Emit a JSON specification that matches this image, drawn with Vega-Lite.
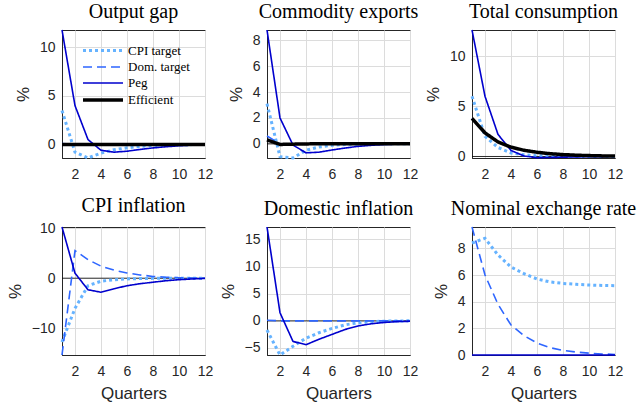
{
  "$schema": "https://vega.github.io/schema/vega-lite/v6.json",
  "background": "white",
  "padding": {"left": 5, "top": 1, "right": 0, "bottom": 0},
  "datasets": {
    "d": [
      {"p":1,"x":1,"cpi":3.5,"dom":0.1,"peg":11.8,"eff":0},
      {"p":1,"x":2,"cpi":-0.8,"dom":0,"peg":4.0,"eff":0},
      {"p":1,"x":3,"cpi":-1.4,"dom":0,"peg":0.5,"eff":0},
      {"p":1,"x":4,"cpi":-0.9,"dom":0,"peg":-0.6,"eff":0},
      {"p":1,"x":5,"cpi":-0.55,"dom":0,"peg":-0.8,"eff":0},
      {"p":1,"x":6,"cpi":-0.35,"dom":0,"peg":-0.7,"eff":0},
      {"p":1,"x":7,"cpi":-0.2,"dom":0,"peg":-0.52,"eff":0},
      {"p":1,"x":8,"cpi":-0.12,"dom":0,"peg":-0.36,"eff":0},
      {"p":1,"x":9,"cpi":-0.07,"dom":0,"peg":-0.24,"eff":0},
      {"p":1,"x":10,"cpi":-0.04,"dom":0,"peg":-0.14,"eff":0},
      {"p":1,"x":11,"cpi":-0.02,"dom":0,"peg":-0.07,"eff":0},
      {"p":1,"x":12,"cpi":-0.01,"dom":0,"peg":-0.03,"eff":0},
      {"p":2,"x":1,"cpi":3.1,"dom":0.6,"peg":8.8,"eff":0.3},
      {"p":2,"x":2,"cpi":-1.0,"dom":0.0,"peg":2.0,"eff":-0.05},
      {"p":2,"x":3,"cpi":-1.1,"dom":-0.05,"peg":-0.1,"eff":-0.03},
      {"p":2,"x":4,"cpi":-0.5,"dom":-0.03,"peg":-0.7,"eff":-0.01},
      {"p":2,"x":5,"cpi":-0.25,"dom":-0.02,"peg":-0.65,"eff":0},
      {"p":2,"x":6,"cpi":-0.12,"dom":-0.01,"peg":-0.48,"eff":0},
      {"p":2,"x":7,"cpi":-0.06,"dom":0,"peg":-0.33,"eff":0},
      {"p":2,"x":8,"cpi":-0.03,"dom":0,"peg":-0.2,"eff":0},
      {"p":2,"x":9,"cpi":-0.01,"dom":0,"peg":-0.12,"eff":0},
      {"p":2,"x":10,"cpi":0,"dom":0,"peg":-0.06,"eff":0},
      {"p":2,"x":11,"cpi":0,"dom":0,"peg":-0.03,"eff":0},
      {"p":2,"x":12,"cpi":0,"dom":0,"peg":-0.01,"eff":0},
      {"p":3,"x":1,"cpi":6.0,"dom":3.8,"peg":12.6,"eff":3.8},
      {"p":3,"x":2,"cpi":2.0,"dom":2.35,"peg":6.0,"eff":2.35},
      {"p":3,"x":3,"cpi":0.9,"dom":1.45,"peg":2.2,"eff":1.45},
      {"p":3,"x":4,"cpi":0.35,"dom":0.93,"peg":0.6,"eff":0.93},
      {"p":3,"x":5,"cpi":0.17,"dom":0.62,"peg":0.05,"eff":0.62},
      {"p":3,"x":6,"cpi":0.08,"dom":0.42,"peg":-0.12,"eff":0.42},
      {"p":3,"x":7,"cpi":0.04,"dom":0.28,"peg":-0.1,"eff":0.28},
      {"p":3,"x":8,"cpi":0.02,"dom":0.19,"peg":-0.07,"eff":0.19},
      {"p":3,"x":9,"cpi":0.01,"dom":0.13,"peg":-0.04,"eff":0.13},
      {"p":3,"x":10,"cpi":0,"dom":0.09,"peg":-0.02,"eff":0.09},
      {"p":3,"x":11,"cpi":0,"dom":0.06,"peg":-0.01,"eff":0.06},
      {"p":3,"x":12,"cpi":0,"dom":0.05,"peg":0,"eff":0.05},
      {"p":4,"x":1,"cpi":-12.7,"dom":-15.3,"peg":10.2},
      {"p":4,"x":2,"cpi":-6.0,"dom":5.5,"peg":1.0},
      {"p":4,"x":3,"cpi":-1.5,"dom":3.7,"peg":-2.3},
      {"p":4,"x":4,"cpi":-0.6,"dom":2.4,"peg":-2.8},
      {"p":4,"x":5,"cpi":-0.3,"dom":1.6,"peg":-2.1},
      {"p":4,"x":6,"cpi":-0.15,"dom":1.05,"peg":-1.5},
      {"p":4,"x":7,"cpi":-0.07,"dom":0.65,"peg":-1.1},
      {"p":4,"x":8,"cpi":-0.03,"dom":0.35,"peg":-0.8},
      {"p":4,"x":9,"cpi":0,"dom":0.2,"peg":-0.5},
      {"p":4,"x":10,"cpi":0,"dom":0.1,"peg":-0.3},
      {"p":4,"x":11,"cpi":0,"dom":0.05,"peg":-0.15},
      {"p":4,"x":12,"cpi":0,"dom":0.02,"peg":-0.05},
      {"p":5,"x":1,"cpi":-1.7,"dom":0.1,"peg":17.3},
      {"p":5,"x":2,"cpi":-6.3,"dom":0,"peg":1.5},
      {"p":5,"x":3,"cpi":-4.7,"dom":0,"peg":-3.8},
      {"p":5,"x":4,"cpi":-3.2,"dom":0,"peg":-4.4},
      {"p":5,"x":5,"cpi":-2.2,"dom":0,"peg":-3.4},
      {"p":5,"x":6,"cpi":-1.4,"dom":0,"peg":-2.5},
      {"p":5,"x":7,"cpi":-0.75,"dom":0,"peg":-1.6},
      {"p":5,"x":8,"cpi":-0.35,"dom":0,"peg":-0.95},
      {"p":5,"x":9,"cpi":-0.15,"dom":0,"peg":-0.55},
      {"p":5,"x":10,"cpi":-0.06,"dom":0,"peg":-0.3},
      {"p":5,"x":11,"cpi":-0.02,"dom":0,"peg":-0.15},
      {"p":5,"x":12,"cpi":0,"dom":0,"peg":-0.08},
      {"p":6,"x":1,"cpi":8.4,"dom":9.6,"peg":0},
      {"p":6,"x":2,"cpi":8.75,"dom":6.0,"peg":0},
      {"p":6,"x":3,"cpi":7.5,"dom":3.8,"peg":0},
      {"p":6,"x":4,"cpi":6.6,"dom":2.25,"peg":0},
      {"p":6,"x":5,"cpi":6.1,"dom":1.45,"peg":0},
      {"p":6,"x":6,"cpi":5.7,"dom":0.9,"peg":0},
      {"p":6,"x":7,"cpi":5.48,"dom":0.55,"peg":0},
      {"p":6,"x":8,"cpi":5.37,"dom":0.35,"peg":0},
      {"p":6,"x":9,"cpi":5.3,"dom":0.22,"peg":0},
      {"p":6,"x":10,"cpi":5.25,"dom":0.14,"peg":0},
      {"p":6,"x":11,"cpi":5.22,"dom":0.08,"peg":0},
      {"p":6,"x":12,"cpi":5.2,"dom":0.04,"peg":0}
    ]
  },
  "columns": 3,
  "spacing": {"row": 69, "column": 62},
  "bounds": "flush",
  "concat": [
    {
      "title": "Output gap",
      "width": 143, "height": 128,
      "data": {"name": "d"},
      "transform": [{"filter": "datum.p == 1"}, {"fold": ["cpi","dom","peg","eff"], "as": ["s","y"]}, {"filter": "isValid(datum.y)"}],
      "layer": [
        {"data": {"values": [{}]}, "mark": {"type": "rule", "color": "black", "strokeWidth": 0.8}, "encoding": {"y": {"datum": 0, "type": "quantitative"}}},
        {"mark": {"type": "line", "clip": false},
         "encoding": {
           "x": {"field": "x", "type": "quantitative", "scale": {"domain": [1,12], "nice": false}, "axis": {"values": [2,4,6,8,10,12], "title": null}},
           "y": {"field": "y", "type": "quantitative", "scale": {"domain": [-1.4,11.8], "nice": false, "zero": false}, "axis": {"values": [0,5,10], "title": "%"}},
           "color": {"field": "s", "type": "nominal", "scale": {"domain": ["cpi","dom","peg","eff"], "range": ["#66b3ff","#2e66ff","#0000cd","#000000"]},
             "legend": {"orient": "none", "legendX": 31, "legendY": 11, "title": null, "labelFont": "Liberation Serif", "labelFontSize": 13, "labelColor": "#000", "symbolType": "M-2.5,0H2.5", "symbolSize": 256, "labelOffset": 15, "rowPadding": -1, "padding": 0,
               "labelExpr": "datum.label == 'cpi' ? 'CPI target' : datum.label == 'dom' ? 'Dom. target' : datum.label == 'peg' ? 'Peg' : 'Efficient'"}},
           "strokeDash": {"field": "s", "type": "nominal", "scale": {"domain": ["cpi","dom","peg","eff"], "range": [[3,3],[9,5],[1,0],[1,0]]}, "legend": {"orient": "none", "legendX": 31, "legendY": 11, "title": null, "labelFont": "Liberation Serif", "labelFontSize": 13, "labelColor": "#000", "symbolType": "M-2.5,0H2.5", "symbolSize": 256, "labelOffset": 15, "rowPadding": -1, "padding": 0,
               "labelExpr": "datum.label == 'cpi' ? 'CPI target' : datum.label == 'dom' ? 'Dom. target' : datum.label == 'peg' ? 'Peg' : 'Efficient'"}},
           "strokeWidth": {"field": "s", "type": "nominal", "scale": {"type": "ordinal", "domain": ["cpi","dom","peg","eff"], "range": [3,1.6,1.6,3.5]}, "legend": {"orient": "none", "legendX": 31, "legendY": 11, "title": null, "labelFont": "Liberation Serif", "labelFontSize": 13, "labelColor": "#000", "symbolType": "M-2.5,0H2.5", "symbolSize": 256, "labelOffset": 15, "rowPadding": -1, "padding": 0,
               "labelExpr": "datum.label == 'cpi' ? 'CPI target' : datum.label == 'dom' ? 'Dom. target' : datum.label == 'peg' ? 'Peg' : 'Efficient'"}}
         }}
      ]
    },
    {
      "title": "Commodity exports",
      "width": 143, "height": 128,
      "data": {"name": "d"},
      "transform": [{"filter": "datum.p == 2"}, {"fold": ["cpi","dom","peg","eff"], "as": ["s","y"]}, {"filter": "isValid(datum.y)"}],
      "layer": [
        {"data": {"values": [{}]}, "mark": {"type": "rule", "color": "black", "strokeWidth": 0.8}, "encoding": {"y": {"datum": 0, "type": "quantitative"}}},
        {"mark": {"type": "line", "clip": false},
         "encoding": {
           "x": {"field": "x", "type": "quantitative", "scale": {"domain": [1,12], "nice": false}, "axis": {"values": [2,4,6,8,10,12], "title": null}},
           "y": {"field": "y", "type": "quantitative", "scale": {"domain": [-1.1,8.8], "nice": false, "zero": false}, "axis": {"tickCount": 5, "title": "%"}},
           "color": {"field": "s", "type": "nominal", "scale": {"domain": ["cpi","dom","peg","eff"], "range": ["#66b3ff","#2e66ff","#0000cd","#000000"]}, "legend": null},
           "strokeDash": {"field": "s", "type": "nominal", "scale": {"domain": ["cpi","dom","peg","eff"], "range": [[3,3],[9,5],[1,0],[1,0]]}, "legend": null},
           "strokeWidth": {"field": "s", "type": "nominal", "scale": {"type": "ordinal", "domain": ["cpi","dom","peg","eff"], "range": [3,1.6,1.6,3.5]}, "legend": null}
         }}
      ]
    },
    {
      "title": "Total consumption",
      "width": 143, "height": 128,
      "data": {"name": "d"},
      "transform": [{"filter": "datum.p == 3"}, {"fold": ["cpi","dom","peg","eff"], "as": ["s","y"]}, {"filter": "isValid(datum.y)"}],
      "layer": [
        {"data": {"values": [{}]}, "mark": {"type": "rule", "color": "black", "strokeWidth": 0.8}, "encoding": {"y": {"datum": 0, "type": "quantitative"}}},
        {"mark": {"type": "line", "clip": false},
         "encoding": {
           "x": {"field": "x", "type": "quantitative", "scale": {"domain": [1,12], "nice": false}, "axis": {"values": [2,4,6,8,10,12], "title": null}},
           "y": {"field": "y", "type": "quantitative", "scale": {"domain": [-0.15,12.6], "nice": false, "zero": false}, "axis": {"values": [0,5,10], "title": "%"}},
           "color": {"field": "s", "type": "nominal", "scale": {"domain": ["cpi","dom","peg","eff"], "range": ["#66b3ff","#2e66ff","#0000cd","#000000"]}, "legend": null},
           "strokeDash": {"field": "s", "type": "nominal", "scale": {"domain": ["cpi","dom","peg","eff"], "range": [[3,3],[9,5],[1,0],[1,0]]}, "legend": null},
           "strokeWidth": {"field": "s", "type": "nominal", "scale": {"type": "ordinal", "domain": ["cpi","dom","peg","eff"], "range": [3,1.6,1.6,3.5]}, "legend": null}
         }}
      ]
    },
    {
      "title": "CPI inflation",
      "width": 143, "height": 128,
      "data": {"name": "d"},
      "transform": [{"filter": "datum.p == 4"}, {"fold": ["cpi","dom","peg","eff"], "as": ["s","y"]}, {"filter": "isValid(datum.y)"}],
      "layer": [
        {"data": {"values": [{}]}, "mark": {"type": "rule", "color": "black", "strokeWidth": 0.8}, "encoding": {"y": {"datum": 0, "type": "quantitative"}}},
        {"mark": {"type": "line", "clip": false},
         "encoding": {
           "x": {"field": "x", "type": "quantitative", "scale": {"domain": [1,12], "nice": false}, "axis": {"values": [2,4,6,8,10,12], "title": "Quarters"}},
           "y": {"field": "y", "type": "quantitative", "scale": {"domain": [-15.3,10.2], "nice": false, "zero": false}, "axis": {"values": [-10,0,10], "title": "%"}},
           "color": {"field": "s", "type": "nominal", "scale": {"domain": ["cpi","dom","peg","eff"], "range": ["#66b3ff","#2e66ff","#0000cd","#000000"]}, "legend": null},
           "strokeDash": {"field": "s", "type": "nominal", "scale": {"domain": ["cpi","dom","peg","eff"], "range": [[3,3],[9,5],[1,0],[1,0]]}, "legend": null},
           "strokeWidth": {"field": "s", "type": "nominal", "scale": {"type": "ordinal", "domain": ["cpi","dom","peg","eff"], "range": [3,1.6,1.6,3.5]}, "legend": null}
         }}
      ]
    },
    {
      "title": "Domestic inflation",
      "width": 143, "height": 128,
      "data": {"name": "d"},
      "transform": [{"filter": "datum.p == 5"}, {"fold": ["cpi","dom","peg","eff"], "as": ["s","y"]}, {"filter": "isValid(datum.y)"}],
      "layer": [
        {"data": {"values": [{}]}, "mark": {"type": "rule", "color": "black", "strokeWidth": 0.8}, "encoding": {"y": {"datum": 0, "type": "quantitative"}}},
        {"mark": {"type": "line", "clip": false},
         "encoding": {
           "x": {"field": "x", "type": "quantitative", "scale": {"domain": [1,12], "nice": false}, "axis": {"values": [2,4,6,8,10,12], "title": "Quarters"}},
           "y": {"field": "y", "type": "quantitative", "scale": {"domain": [-6.3,17.3], "nice": false, "zero": false}, "axis": {"tickCount": 5, "title": "%"}},
           "color": {"field": "s", "type": "nominal", "scale": {"domain": ["cpi","dom","peg","eff"], "range": ["#66b3ff","#2e66ff","#0000cd","#000000"]}, "legend": null},
           "strokeDash": {"field": "s", "type": "nominal", "scale": {"domain": ["cpi","dom","peg","eff"], "range": [[3,3],[9,5],[1,0],[1,0]]}, "legend": null},
           "strokeWidth": {"field": "s", "type": "nominal", "scale": {"type": "ordinal", "domain": ["cpi","dom","peg","eff"], "range": [3,1.6,1.6,3.5]}, "legend": null}
         }}
      ]
    },
    {
      "title": "Nominal exchange rate",
      "width": 143, "height": 128,
      "data": {"name": "d"},
      "transform": [{"filter": "datum.p == 6"}, {"fold": ["cpi","dom","peg","eff"], "as": ["s","y"]}, {"filter": "isValid(datum.y)"}],
      "layer": [
        {"mark": {"type": "line", "clip": false},
         "encoding": {
           "x": {"field": "x", "type": "quantitative", "scale": {"domain": [1,12], "nice": false}, "axis": {"values": [2,4,6,8,10,12], "title": "Quarters"}},
           "y": {"field": "y", "type": "quantitative", "scale": {"domain": [0,9.6], "nice": false, "zero": false}, "axis": {"tickCount": 5, "title": "%"}},
           "color": {"field": "s", "type": "nominal", "scale": {"domain": ["cpi","dom","peg","eff"], "range": ["#66b3ff","#2e66ff","#0000cd","#000000"]}, "legend": null},
           "strokeDash": {"field": "s", "type": "nominal", "scale": {"domain": ["cpi","dom","peg","eff"], "range": [[3,3],[9,5],[1,0],[1,0]]}, "legend": null},
           "strokeWidth": {"field": "s", "type": "nominal", "scale": {"type": "ordinal", "domain": ["cpi","dom","peg","eff"], "range": [3,1.6,1.6,3.5]}, "legend": null}
         }}
      ]
    }
  ],
  "resolve": {
    "scale": {"x": "independent", "y": "independent", "color": "independent", "strokeDash": "independent", "strokeWidth": "independent"},
    "axis": {"x": "independent", "y": "independent"},
    "legend": {"color": "independent", "strokeDash": "independent", "strokeWidth": "independent"}
  },
  "config": {
    "view": {"stroke": "#262626", "strokeWidth": 1},
    "axis": {
      "labelFont": "Liberation Sans", "labelFontSize": 14, "labelColor": "#262626", "labelOverlap": false,
      "titleFont": "Liberation Sans", "titleFontSize": 17, "titleFontWeight": "normal", "titleColor": "#262626",
      "grid": true, "gridColor": "#dcdcdc", "gridOpacity": 1, "gridWidth": 1,
      "domainColor": "#262626", "ticks": false, "labelPadding": 7, "titlePadding": 7
    },
    "axisY": {"titleAngle": -90},
    "axisX": {"labelPadding": 9, "labelFlush": false, "titlePadding": 7},
    "title": {"font": "Liberation Serif", "fontSize": 20, "fontWeight": "normal", "color": "#000", "offset": 5, "anchor": "middle"}
  }
}
